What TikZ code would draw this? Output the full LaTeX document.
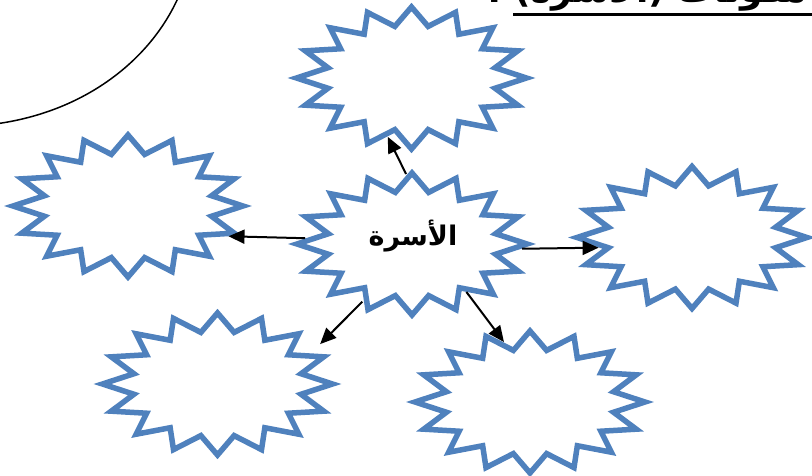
\documentclass[tikz,border=0pt]{standalone}
\usepackage{fontspec}
\newfontfamily\arabicfont[Script=Arabic]{DejaVu Sans}
\TeXXeTstate=1
\usetikzlibrary{shapes.geometric,arrows.meta}
\definecolor{starblue}{RGB}{79,129,189}
\begin{document}
\begin{tikzpicture}[x=1pt,y=-1pt,
  burst/.style={star, star points=16, star point ratio=1.35, minimum size=142pt,
    inner sep=0pt, outer sep=2.75pt, draw=starblue, line width=5.5pt, fill=white, xscale=1.62},
  link/.style={line width=2pt, -{Triangle[length=16pt,width=14pt]}},
  lbl/.style={font=\arabicfont\bfseries\fontsize{27}{32}\selectfont, inner sep=0pt},
  ttlstyle/.style={font=\arabicfont\bfseries\fontsize{36}{40}\selectfont, inner sep=0pt}]
\clip (0,0) rectangle (812,476);
\fill[white] (0,0) rectangle (812,476);
% heading (cut off at the top, as in the reference)
\node[ttlstyle, anchor=base west] (ttl) at (487,2.5) {\beginR مكونات (الأسرة) :\endR};
\draw[line width=3.3pt] (513,14.3) -- (830,14.3);
% arc at top left
\draw[line width=1.5pt] (-5,124) .. controls (85,112) and (150,60) .. (178,-2);
% stars
\node[burst] (T)  at (411.5,78) {};
\node[burst] (C)  at (412,244) {};
\node[burst] (L)  at (128,206) {};
\node[burst] (R)  at (692,237.5) {};
\node[burst] (BL) at (217.5,384) {};
\node[burst] (BR) at (530,402) {};
\node[lbl] (lblC) at (413,236) {\beginR الأسرة\endR};
% arrows
\draw[link] (C.93.6) -- (T.-104.5);
\draw[link] (C.175) -- (L.-26.6);
\draw[link] (C.-4.2) -- (R.190.9);
\draw[link, shorten >=13pt] (C.242) -- (BL.28.4);
\draw[link] (C.-55.4) -- (BR.105.6);
\end{tikzpicture}
\end{document}
